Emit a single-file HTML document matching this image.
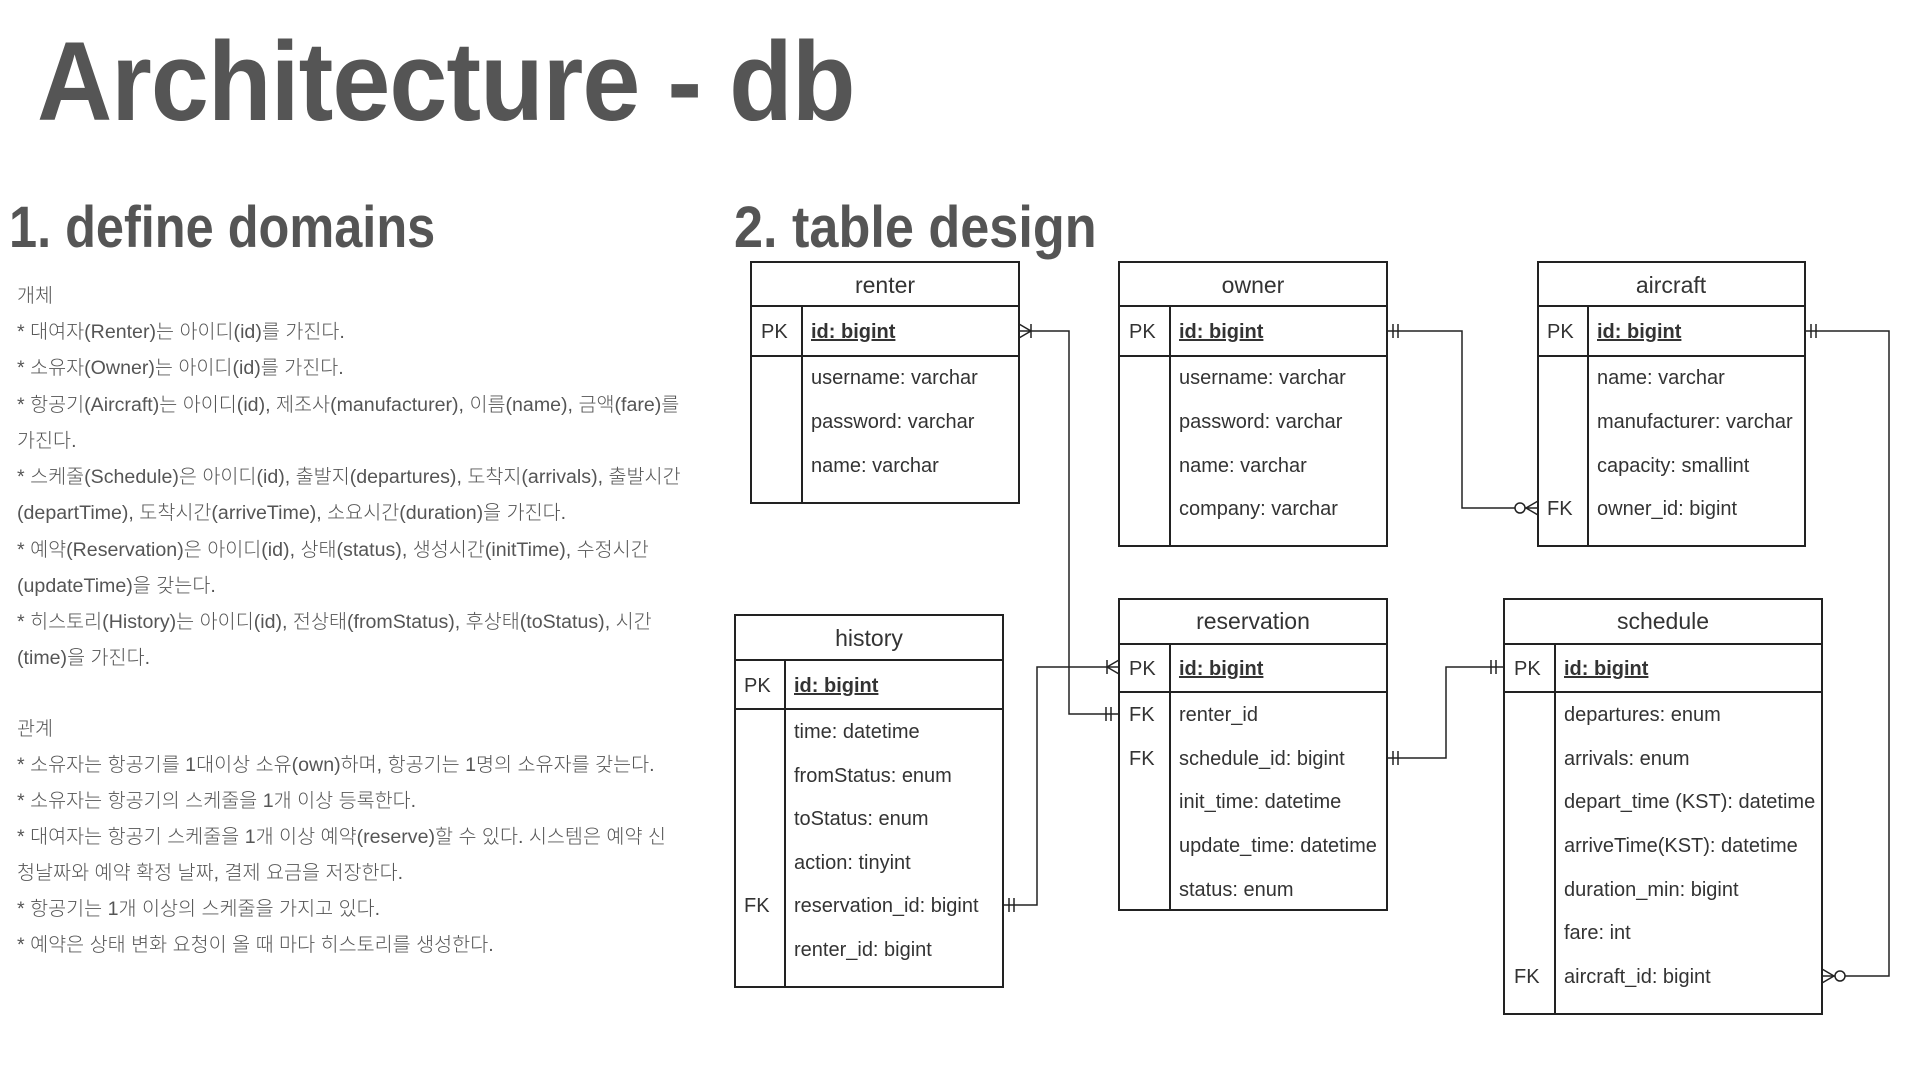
<!DOCTYPE html>
<html><head><meta charset="utf-8"><style>
body{margin:0;width:1920px;height:1080px;background:#fff;overflow:hidden;position:relative;font-family:"Liberation Sans","Noto Sans CJK KR",sans-serif}
.t{position:absolute;white-space:nowrap;color:#555;font-weight:bold}
.l{position:absolute;left:17px;white-space:nowrap;color:#555;font-size:19.6px;line-height:36px;font-family:"Liberation Sans","Noto Sans CJK KR",sans-serif;font-weight:300}
</style></head><body>
<div class="t" style="left:37px;top:22px;font-size:112px;line-height:120px;transform:scaleX(0.93);transform-origin:0 0;letter-spacing:-1px">Architecture - db</div>
<div class="t" style="left:9px;top:196px;font-size:58px;line-height:64px;transform:scaleX(0.87);transform-origin:0 0">1. define domains</div>
<div class="t" style="left:734px;top:196px;font-size:58px;line-height:64px;transform:scaleX(0.9);transform-origin:0 0">2. table design</div>

<div class="l" style="top:278px">개체</div>
<div class="l" style="top:314px">* 대여자(Renter)는 아이디(id)를 가진다.</div>
<div class="l" style="top:350px">* 소유자(Owner)는 아이디(id)를 가진다.</div>
<div class="l" style="top:387px">* 항공기(Aircraft)는 아이디(id), 제조사(manufacturer), 이름(name), 금액(fare)를</div>
<div class="l" style="top:423px">가진다.</div>
<div class="l" style="top:459px">* 스케줄(Schedule)은 아이디(id), 출발지(departures), 도착지(arrivals), 출발시간</div>
<div class="l" style="top:495px">(departTime), 도착시간(arriveTime), 소요시간(duration)을 가진다.</div>
<div class="l" style="top:532px">* 예약(Reservation)은 아이디(id), 상태(status), 생성시간(initTime), 수정시간</div>
<div class="l" style="top:568px">(updateTime)을 갖는다.</div>
<div class="l" style="top:604px">* 히스토리(History)는 아이디(id), 전상태(fromStatus), 후상태(toStatus), 시간</div>
<div class="l" style="top:640px">(time)을 가진다.</div>
<div class="l" style="top:711px">관계</div>
<div class="l" style="top:747px">* 소유자는 항공기를 1대이상 소유(own)하며, 항공기는 1명의 소유자를 갖는다.</div>
<div class="l" style="top:783px">* 소유자는 항공기의 스케줄을 1개 이상 등록한다.</div>
<div class="l" style="top:819px">* 대여자는 항공기 스케줄을 1개 이상 예약(reserve)할 수 있다. 시스템은 예약 신</div>
<div class="l" style="top:855px">청날짜와 예약 확정 날짜, 결제 요금을 저장한다.</div>
<div class="l" style="top:891px">* 항공기는 1개 이상의 스케줄을 가지고 있다.</div>
<div class="l" style="top:927px">* 예약은 상태 변화 요청이 올 때 마다 히스토리를 생성한다.</div>

<svg width="1920" height="1080" style="position:absolute;left:0;top:0" font-family="Liberation Sans, sans-serif" fill="#333">
<g fill="none" stroke="#222" stroke-width="2">
<rect x="751" y="262" width="268" height="241"/><line x1="751" y1="306" x2="1019" y2="306"/><line x1="751" y1="356" x2="1019" y2="356"/><line x1="802" y1="306" x2="802" y2="503"/>
<rect x="1119" y="262" width="268" height="284"/><line x1="1119" y1="306" x2="1387" y2="306"/><line x1="1119" y1="356" x2="1387" y2="356"/><line x1="1170" y1="306" x2="1170" y2="546"/>
<rect x="1538" y="262" width="267" height="284"/><line x1="1538" y1="306" x2="1805" y2="306"/><line x1="1538" y1="356" x2="1805" y2="356"/><line x1="1588" y1="306" x2="1588" y2="546"/>
<rect x="735" y="615" width="268" height="372"/><line x1="735" y1="660" x2="1003" y2="660"/><line x1="735" y1="709" x2="1003" y2="709"/><line x1="785" y1="660" x2="785" y2="987"/>
<rect x="1119" y="599" width="268" height="311"/><line x1="1119" y1="644" x2="1387" y2="644"/><line x1="1119" y1="692" x2="1387" y2="692"/><line x1="1170" y1="644" x2="1170" y2="910"/>
<rect x="1504" y="599" width="318" height="415"/><line x1="1504" y1="644" x2="1822" y2="644"/><line x1="1504" y1="692" x2="1822" y2="692"/><line x1="1555" y1="644" x2="1555" y2="1014"/>
</g>
<g fill="none" stroke="#222" stroke-width="1.5">
<polyline points="1019,331 1069,331 1069,714 1119,714"/>
<line x1="1019" y1="324" x2="1031" y2="331"/><line x1="1019" y1="338" x2="1031" y2="331"/><line x1="1031" y1="324" x2="1031" y2="338"/>
<line x1="1106" y1="707" x2="1106" y2="721"/><line x1="1111" y1="707" x2="1111" y2="721"/>
<polyline points="1387,331 1462,331 1462,508 1538,508"/>
<line x1="1393" y1="324" x2="1393" y2="338"/><line x1="1398" y1="324" x2="1398" y2="338"/>
<line x1="1538" y1="501" x2="1526" y2="508"/><line x1="1538" y1="515" x2="1526" y2="508"/><circle cx="1520" cy="508" r="5" fill="#fff"/>
<polyline points="1805,331 1889,331 1889,976 1822,976"/>
<line x1="1811" y1="324" x2="1811" y2="338"/><line x1="1816" y1="324" x2="1816" y2="338"/>
<line x1="1822" y1="969" x2="1834" y2="976"/><line x1="1822" y1="983" x2="1834" y2="976"/><circle cx="1840" cy="976" r="5" fill="#fff"/>
<polyline points="1003,905 1037,905 1037,667 1119,667"/>
<line x1="1009" y1="898" x2="1009" y2="912"/><line x1="1014" y1="898" x2="1014" y2="912"/>
<line x1="1119" y1="660" x2="1107" y2="667"/><line x1="1119" y1="674" x2="1107" y2="667"/><line x1="1107" y1="660" x2="1107" y2="674"/>
<polyline points="1387,758 1446,758 1446,667 1504,667"/>
<line x1="1393" y1="751" x2="1393" y2="765"/><line x1="1398" y1="751" x2="1398" y2="765"/>
<line x1="1491" y1="660" x2="1491" y2="674"/><line x1="1496" y1="660" x2="1496" y2="674"/>
</g>
<g font-size="23" text-anchor="middle">
<text x="885" y="293">renter</text><text x="1253" y="293">owner</text><text x="1671" y="293">aircraft</text>
<text x="869" y="646">history</text><text x="1253" y="629">reservation</text><text x="1663" y="629">schedule</text>
</g>
<g font-size="20">
<text x="761" y="338">PK</text><text x="1129" y="338">PK</text><text x="1547" y="338">PK</text>
<text x="744" y="692">PK</text><text x="1129" y="675">PK</text><text x="1514" y="675">PK</text>
<text x="1547" y="515">FK</text><text x="744" y="912">FK</text><text x="1129" y="721">FK</text><text x="1129" y="765">FK</text><text x="1514" y="983">FK</text>
<g font-weight="bold" text-decoration="underline">
<text x="811" y="338">id: bigint</text><text x="1179" y="338">id: bigint</text><text x="1597" y="338">id: bigint</text>
<text x="794" y="692">id: bigint</text><text x="1179" y="675">id: bigint</text><text x="1564" y="675">id: bigint</text>
</g>
<text x="811" y="384">username: varchar</text><text x="811" y="428">password: varchar</text><text x="811" y="472">name: varchar</text>
<text x="1179" y="384">username: varchar</text><text x="1179" y="428">password: varchar</text><text x="1179" y="472">name: varchar</text><text x="1179" y="515">company: varchar</text>
<text x="1597" y="384">name: varchar</text><text x="1597" y="428">manufacturer: varchar</text><text x="1597" y="472">capacity: smallint</text><text x="1597" y="515">owner_id: bigint</text>
<text x="794" y="738">time: datetime</text><text x="794" y="782">fromStatus: enum</text><text x="794" y="825">toStatus: enum</text><text x="794" y="869">action: tinyint</text><text x="794" y="912">reservation_id: bigint</text><text x="794" y="956">renter_id: bigint</text>
<text x="1179" y="721">renter_id</text><text x="1179" y="765">schedule_id: bigint</text><text x="1179" y="808">init_time: datetime</text><text x="1179" y="852">update_time: datetime</text><text x="1179" y="896">status: enum</text>
<text x="1564" y="721">departures: enum</text><text x="1564" y="765">arrivals: enum</text><text x="1564" y="808">depart_time (KST): datetime</text><text x="1564" y="852">arriveTime(KST): datetime</text><text x="1564" y="896">duration_min: bigint</text><text x="1564" y="939">fare: int</text><text x="1564" y="983">aircraft_id: bigint</text>
</g>
</svg>
</body></html>
